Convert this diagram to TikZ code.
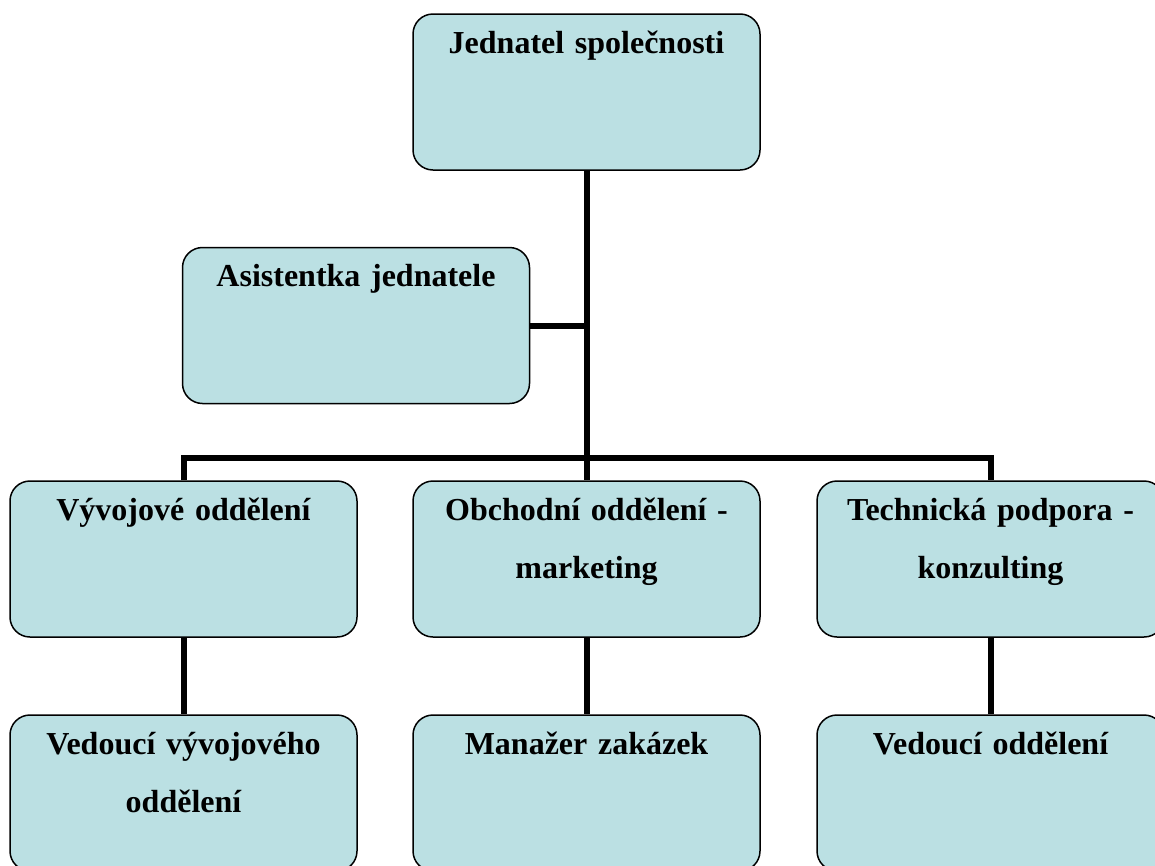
\documentclass[tikz,border=0pt]{standalone}
\usepackage{fontspec}
\setmainfont{Liberation Serif}
\usetikzlibrary{calc}

\tikzset{
  orgbox/.style={draw=black, line width=1.5pt, fill={rgb,255:red,187;green,224;blue,227},
    rounded corners=20pt, minimum width=347pt, inner xsep=0pt, inner ysep=0pt,
    text width=330pt, align=center, text height=39pt, text depth=117pt,
    font=\fontsize{32}{58}\selectfont\bfseries},
  orgline/.style={line width=6pt, line join=miter, draw=black}
}

\begin{document}
\begin{tikzpicture}[x=1pt,y=1pt,yscale=-1,xscale=1]
\clip (0,0) rectangle (1155,865);

% boxes
\node [orgbox] (ceo) at (586.5,92) {Jednatel společnosti};
\node [orgbox] (asst) at (356,325.5) {Asistentka jednatele};
\node [orgbox] (dev) at (183.5,559) {Vývojové oddělení};
\node [orgbox] (sales) at (586.5,559) {Obchodní oddělení -\\marketing};
\node [orgbox] (tech) at (990.5,559) {Technická podpora -\\konzulting};
\node [orgbox] (devlead) at (183.5,793) {Vedoucí vývojového\\oddělení};
\node [orgbox] (salesmgr) at (586.5,793) {Manažer zakázek};
\node [orgbox] (techlead) at (990.5,793) {Vedoucí oddělení};

% connectors
\coordinate (bus) at (586.5,458);
\draw [orgline] (ceo.south) -- (bus);
\draw [orgline] (asst.east) -- (asst.east -| ceo.south);
\draw [orgline] (dev.north) |- (bus) -| (tech.north);
\draw [orgline] (bus) -- (sales.north);
\draw [orgline] (dev.south) -- (devlead.north);
\draw [orgline] (sales.south) -- (salesmgr.north);
\draw [orgline] (tech.south) -- (techlead.north);

\end{tikzpicture}
\end{document}
